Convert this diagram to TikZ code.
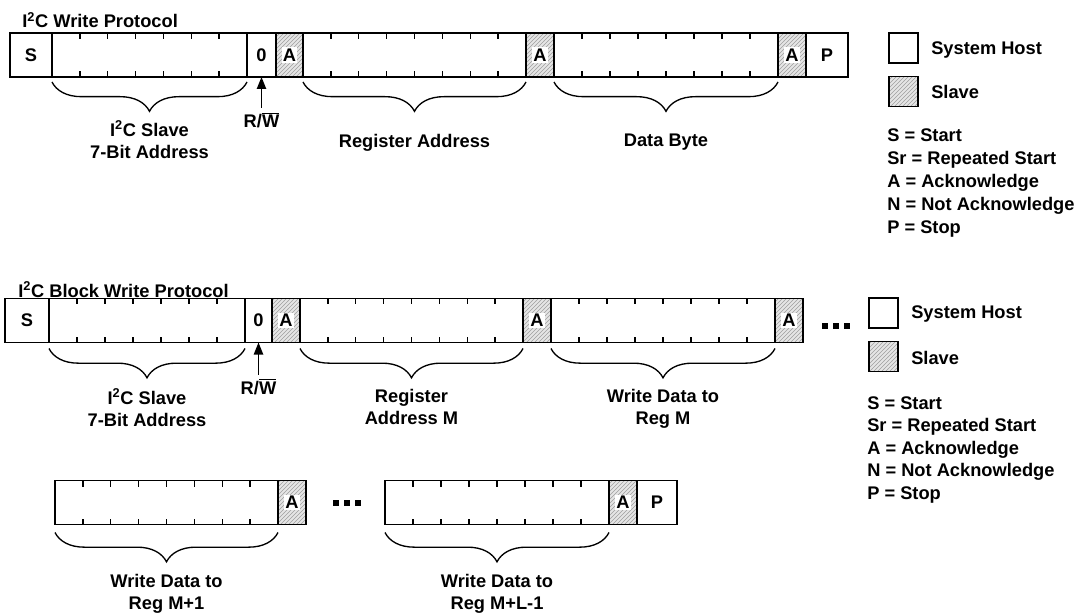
\documentclass[tikz,border=0pt]{standalone}
\usepackage{fontspec}
\setmainfont{Liberation Sans}
\usetikzlibrary{positioning,calc,patterns,arrows.meta,decorations.pathreplacing}

\tikzset{
  cell/.style={draw, line width=1.4pt, minimum height=44*0.75pt, inner sep=0pt, outer sep=0pt, anchor=west},
  cellw/.style={minimum width=#1*0.75pt},
  hatch/.style={pattern=north east lines, pattern color=gray!75, preaction={fill=gray!20}},
  ltr/.style={fill=white, inner sep=1pt},
  slave/.style={cell, hatch, label={[ltr]center:A}},
  legendbox/.style={draw, line width=1.3pt, minimum width=29*0.75pt, minimum height=30*0.75pt, inner sep=0pt},
  bittick/.style={line width=1.1pt},
  bracket/.style={decorate, decoration={brace, mirror, amplitude=22pt}, line width=1pt},
  lbl/.style={align=center, inner sep=0pt, anchor=north},
  keytext/.style={anchor=base west, inner sep=0pt},
  rwarrow/.style={-{Triangle[length=9pt,width=7pt]}, line width=1pt, shorten <=3pt},
}

\begin{document}
\begin{tikzpicture}[x=0.75pt, y=-0.75pt, every node/.style={font=\bfseries\fontsize{13.7}{16.5}\selectfont}]
  \useasboundingbox (0,0) rectangle (1079,613);

  % write protocol
  \node[keytext] (title1) at (22,28) {I\textsuperscript{2}C Write Protocol};
  \node[cell, cellw=42] (s1) at (10,55) {S};
  \node[cell, cellw=195, right=0pt of s1] (addr1) {};
  \node[cell, cellw=29, right=0pt of addr1] (zero1) {0};
  \node[slave, cellw=27, right=0pt of zero1] (ackA1) {};
  \node[cell, cellw=223, right=0pt of ackA1] (reg1) {};
  \node[slave, cellw=28, right=0pt of reg1] (ackB1) {};
  \node[cell, cellw=224, right=0pt of ackB1] (data1) {};
  \node[slave, cellw=28, right=0pt of data1] (ackC1) {};
  \node[cell, cellw=42, right=0pt of ackC1] (p1) {P};

  \draw[bracket] ($(addr1.south west)+(0,5)$) -- ($(addr1.south east)+(0,5)$);
  \draw[bracket] ($(reg1.south west)+(0,5)$) -- ($(reg1.south east)+(0,5)$);
  \draw[bracket] ($(data1.south west)+(0,5)$) -- ($(data1.south east)+(0,5)$);
  \node[lbl] (addrlbl1) at ($(addr1.south)+(0,43)$) {I\textsuperscript{2}C Slave\\7-Bit Address};
  \node[lbl] (rw1) at ($(zero1.south)+(0,35)$) {R/$\overline{\mbox{W}}$};
  \draw[rwarrow] (rw1) -- (zero1);
  \node[lbl] (reglbl1) at ($(reg1.south)+(0,57)$) {Register Address};
  \node[lbl] (datalbl1) at ($(data1.south)+(0,57)$) {Data Byte};

  \node[legendbox] (host1) at (903.5,48) {};
  \node[legendbox, hatch] (slv1) at (903.5,91.5) {};
  \node[keytext] (hostlbl1) at (931,55) {System Host};
  \node[keytext] (slvlbl1) at (931,99) {Slave};
  \foreach \t [count=\i] in {S = Start, Sr = Repeated Start, A = Acknowledge, N = Not Acknowledge, P = Stop}
    \node[keytext] (keyA\i) at (887,119+23*\i) {\t};

  % block write protocol
  \node[keytext] (title2) at (18,297) {I\textsuperscript{2}C Block Write Protocol};
  \node[cell, cellw=44] (s2) at (5,320.5) {S};
  \node[cell, cellw=196, right=0pt of s2] (addr2) {};
  \node[cell, cellw=27, right=0pt of addr2] (zero2) {0};
  \node[slave, cellw=28, right=0pt of zero2] (ackA2) {};
  \node[cell, cellw=223, right=0pt of ackA2] (reg2) {};
  \node[slave, cellw=28, right=0pt of reg2] (ackB2) {};
  \node[cell, cellw=224, right=0pt of ackB2] (data2) {};
  \node[slave, cellw=28, right=0pt of data2] (ackC2) {};
  \foreach \d in {0,11,22} \fill (822+\d,323) rectangle ++(6,6);

  \node[cell, cellw=223] (data3) at (55,502.5) {};
  \node[slave, cellw=28, right=0pt of data3] (ackD2) {};
  \foreach \d in {0,11,22} \fill (333+\d,500) rectangle ++(6,6);
  \node[cell, cellw=224] (data4) at (385,502.5) {};
  \node[slave, cellw=28, right=0pt of data4] (ackE2) {};
  \node[cell, cellw=40, right=0pt of ackE2] (p2) {P};

  \draw[bracket] ($(addr2.south west)+(0,6)$) -- ($(addr2.south east)+(0,6)$);
  \draw[bracket] ($(reg2.south west)+(0,6)$) -- ($(reg2.south east)+(0,6)$);
  \draw[bracket] ($(data2.south west)+(0,6)$) -- ($(data2.south east)+(0,6)$);
  \draw[bracket] ($(data3.south west)+(0,8)$) -- ($(data3.south east)+(0,8)$);
  \draw[bracket] ($(data4.south west)+(0,8)$) -- ($(data4.south east)+(0,8)$);
  \node[lbl] (addrlbl2) at ($(addr2.south)+(0,46)$) {I\textsuperscript{2}C Slave\\7-Bit Address};
  \node[lbl] (rw2) at ($(zero2.south)+(0,36)$) {R/$\overline{\mbox{W}}$};
  \draw[rwarrow] (rw2) -- (zero2);
  \node[lbl] (reglbl2) at ($(reg2.south)+(0,46)$) {Register\\Address M};
  \node[lbl] (datalbl2) at ($(data2.south)+(0,46)$) {Write Data to\\Reg M};
  \node[lbl] (datalbl3) at ($(data3.south)+(0,49)$) {Write Data to\\Reg M+1};
  \node[lbl] (datalbl4) at ($(data4.south)+(0,49)$) {Write Data to\\Reg M+L-1};

  \node[legendbox] (host2) at (883.5,313) {};
  \node[legendbox, hatch] (slv2) at (883.5,356.5) {};
  \node[keytext] (hostlbl2) at (911,319) {System Host};
  \node[keytext] (slvlbl2) at (911,364) {Slave};
  \foreach \t [count=\i] in {S = Start, Sr = Repeated Start, A = Acknowledge, N = Not Acknowledge, P = Stop}
    \node[keytext] (keyB\i) at (867,386.5+22.5*\i) {\t};

  % bit ticks
  \foreach \f/\n in {addr1/7, reg1/8, data1/8, addr2/7, reg2/8, data2/8, data3/8, data4/8} {
    \pgfmathtruncatemacro\m{\n-1}
    \foreach \k in {1,...,\m} {
      \draw[bittick] ($(\f.north west)!\k/\n!(\f.north east)$) -- ++(0,6);
      \draw[bittick] ($(\f.south west)!\k/\n!(\f.south east)$) -- ++(0,-6);
    }
  }
\end{tikzpicture}
\end{document}
